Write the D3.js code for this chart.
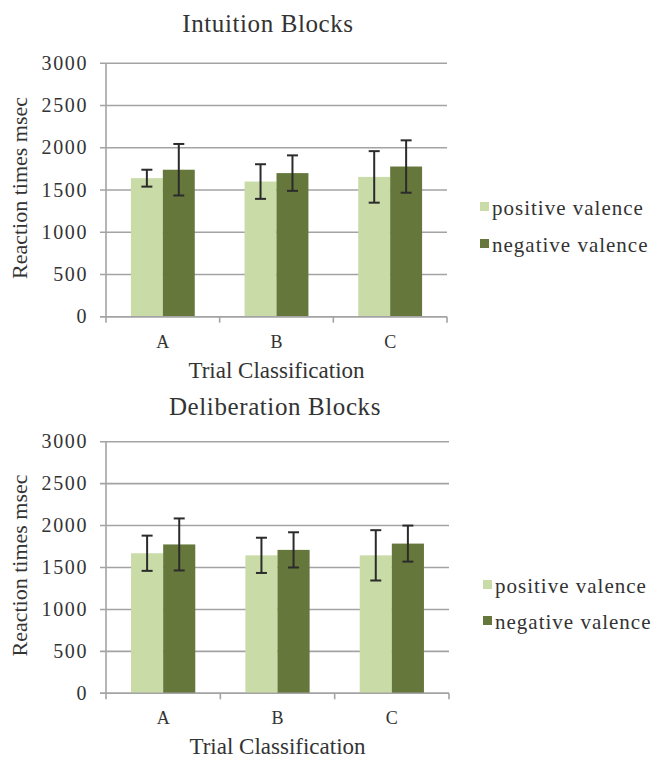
<html><head><meta charset="utf-8"><script src="https://cdn.jsdelivr.net/npm/d3@7"></script></head>
<body style="margin:0">
<svg id="chart" width="656" height="758"></svg>
<script>
// ---- data ----
const categories = ["A", "B", "C"];
const seriesNames = ["positive valence", "negative valence"];
const yTicks = [0, 500, 1000, 1500, 2000, 2500, 3000];

const intuitionPositive = [1640, 1600, 1655];
const intuitionPositiveErr = [100, 205, 305];
const intuitionNegative = [1740, 1700, 1778];
const intuitionNegativeErr = [305, 210, 310];

const deliberationPositive = [1670, 1645, 1645];
const deliberationPositiveErr = [210, 210, 300];
const deliberationNegative = [1775, 1710, 1785];
const deliberationNegativeErr = [310, 210, 215];

const colors = ["#c9dba6", "#66773b"];

const svg = d3.select("#chart").style("font-family", "'Liberation Serif'");

function txt(sel) {
  return sel.style("font-family", "'Liberation Serif'").attr("fill", "#333");
}

function panel(cfg) {
  const g = svg.append("g");
  const x = d3.scaleBand().domain(categories).range([cfg.left, cfg.right]).padding(0);
  const x1 = d3.scaleBand().domain(seriesNames).range([0, x.bandwidth()]).paddingInner(0).paddingOuter(0.78);
  const y = d3.scaleLinear().domain([0, 3000]).range([cfg.bottom, cfg.top]);

  // gridlines with outward tick stubs
  g.selectAll(".grid").data(yTicks).enter().append("line")
    .attr("x1", cfg.left - 6).attr("x2", cfg.right).attr("y1", d => y(d)).attr("y2", d => y(d))
    .attr("stroke", "#a3a3a3").attr("stroke-width", 1.6);

  // y axis line
  g.append("line").attr("x1", cfg.left).attr("x2", cfg.left).attr("y1", cfg.top).attr("y2", cfg.bottom)
    .attr("stroke", "#a3a3a3").attr("stroke-width", 1.6);

  // y tick labels
  g.selectAll(".ylab").data(yTicks).enter().append("text").call(txt)
    .attr("x", cfg.left - 18).attr("y", d => y(d)).attr("dy", "0.33em")
    .attr("text-anchor", "end").attr("font-size", 20).attr("letter-spacing", 1.6)
    .text(d => d);

  // bars
  const data = categories.map((c, i) => ({
    cat: c,
    vals: [
      { s: seriesNames[0], v: cfg.pos[i], e: cfg.posErr[i], k: 0 },
      { s: seriesNames[1], v: cfg.neg[i], e: cfg.negErr[i], k: 1 }
    ]
  }));
  const cg = g.selectAll(".cat").data(data).enter().append("g")
    .attr("transform", d => `translate(${x(d.cat)},0)`);
  cg.selectAll("rect").data(d => d.vals).enter().append("rect")
    .attr("x", d => x1(d.s)).attr("width", x1.bandwidth())
    .attr("y", d => y(d.v)).attr("height", d => y(0) - y(d.v))
    .attr("fill", d => colors[d.k]);

  // x axis baseline + ticks at band boundaries
  const xb = d3.scaleLinear().domain([0, categories.length]).range([cfg.left, cfg.right]);
  g.append("line").attr("x1", cfg.left - 6).attr("x2", cfg.right).attr("y1", y(0)).attr("y2", y(0))
    .attr("stroke", "#a3a3a3").attr("stroke-width", 1.6);
  g.selectAll(".xt").data(d3.range(categories.length + 1)).enter().append("line")
    .attr("x1", d => xb(d)).attr("x2", d => xb(d)).attr("y1", y(0)).attr("y2", y(0) + 6)
    .attr("stroke", "#a3a3a3").attr("stroke-width", 1.6);

  // error bars
  const eb = cg.selectAll(".err").data(d => d.vals).enter().append("g")
    .attr("transform", d => `translate(${x1(d.s) + x1.bandwidth() / 2},0)`)
    .attr("stroke", "#2b2b2b").attr("stroke-width", 2);
  eb.append("line").attr("y1", d => y(d.v + d.e)).attr("y2", d => y(d.v - d.e));
  eb.append("line").attr("x1", -5.5).attr("x2", 5.5).attr("y1", d => y(d.v + d.e)).attr("y2", d => y(d.v + d.e));
  eb.append("line").attr("x1", -5.5).attr("x2", 5.5).attr("y1", d => y(d.v - d.e)).attr("y2", d => y(d.v - d.e));

  // category labels
  g.selectAll(".xl").data(categories).enter().append("text").call(txt)
    .attr("x", d => x(d) + x.bandwidth() / 2).attr("y", y(0) + 31)
    .attr("text-anchor", "middle").attr("font-size", 18)
    .text(d => d);

  // axis titles
  g.append("text").call(txt).attr("x", (cfg.left + cfg.right) / 2).attr("y", y(0) + 61)
    .attr("text-anchor", "middle").attr("font-size", 23)
    .text("Trial Classification");
  g.append("text").call(txt).attr("transform", `translate(27,${(cfg.top + cfg.bottom) / 2 - 2}) rotate(-90)`)
    .attr("text-anchor", "middle").attr("font-size", 22)
    .text("Reaction times msec");

  // title
  g.append("text").call(txt).attr("x", cfg.titleX).attr("y", cfg.titleY)
    .attr("text-anchor", "middle").attr("font-size", 25).attr("letter-spacing", 0.6)
    .text(cfg.title);

  // legend
  const lg = g.selectAll(".lg").data(seriesNames).enter().append("g")
    .attr("transform", (d, i) => `translate(${cfg.legX},${cfg.legY[i]})`);
  lg.append("rect").attr("x", 0).attr("y", -9).attr("width", 9).attr("height", 9)
    .attr("fill", (d, i) => colors[i]);
  lg.append("text").call(txt).attr("x", 12).attr("y", 4).attr("font-size", 21).attr("letter-spacing", 1)
    .text(d => d);
}

panel({
  title: "Intuition Blocks", titleX: 268, titleY: 32,
  left: 106, right: 447, top: 63.3, bottom: 316.7,
  pos: intuitionPositive, posErr: intuitionPositiveErr,
  neg: intuitionNegative, negErr: intuitionNegativeErr,
  legX: 480, legY: [211, 248]
});
panel({
  title: "Deliberation Blocks", titleX: 275, titleY: 415,
  left: 106, right: 449, top: 441.7, bottom: 693.3,
  pos: deliberationPositive, posErr: deliberationPositiveErr,
  neg: deliberationNegative, negErr: deliberationNegativeErr,
  legX: 483, legY: [589, 625]
});
</script>
</body>
</html>
